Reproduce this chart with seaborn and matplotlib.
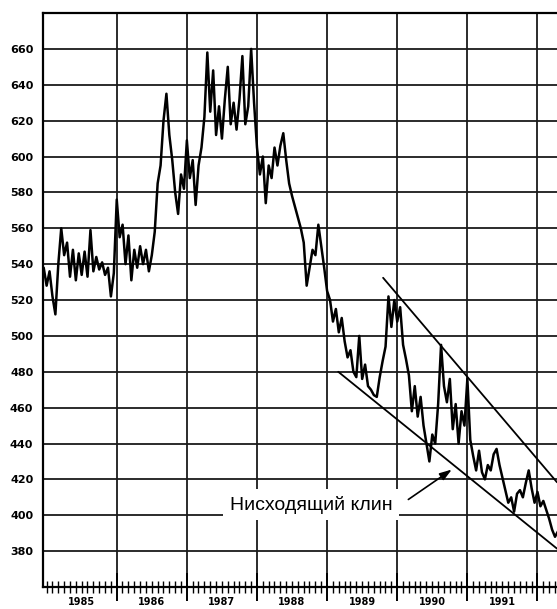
import numpy as np
import pandas as pd
import matplotlib
matplotlib.use("Agg")
import matplotlib.pyplot as plt
import matplotlib.transforms as mtransforms
import seaborn as sns

# ---- data, half-monthly points starting 1984.96 ----
start_year = 1984.96
step = 1 / 24
prices_1985 = [538, 528, 536, 522, 512, 540, 560, 545, 552, 533, 548, 531,
               546, 534, 547, 533, 559, 536, 544, 537, 541, 534, 538, 522]
prices_1986 = [535, 576, 555, 562, 540, 556, 531, 548, 538, 550, 540, 548,
               536, 545, 558, 585, 595, 620, 635, 612, 598, 580, 568, 590]
prices_1987 = [582, 609, 588, 598, 573, 595, 605, 622, 658, 625, 648, 612,
               628, 610, 632, 650, 618, 630, 615, 632, 656, 618, 628, 660]
prices_1988 = [630, 605, 590, 600, 574, 595, 588, 605, 595, 606, 613, 598,
               585, 578, 572, 566, 560, 552, 528, 538, 548, 545, 562, 550]
prices_1989 = [538, 525, 520, 508, 515, 502, 510, 497, 488, 492, 480, 477,
               500, 476, 484, 472, 470, 467, 466, 477, 486, 494, 522, 505]
prices_1990 = [520, 508, 516, 495, 487, 478, 458, 472, 455, 466, 450, 440,
               430, 445, 440, 462, 495, 472, 463, 476, 448, 462, 440, 458]
prices_1991 = [450, 476, 442, 433, 425, 436, 424, 420, 428, 425, 434, 437,
               428, 421, 414, 407, 410, 402, 412, 414, 410, 418, 425, 415]
prices_1992 = [407, 413, 405, 408, 403, 398, 392, 388, 391]

# wedge lines ("Нисходящий клин")
upper_line_x = [1989.80, 1992.28]
upper_line_y = [532.4, 418.4]
lower_line_x = [1989.16, 1992.28]
lower_line_y = [480.0, 381.4]

year_labels = [1985, 1986, 1987, 1988, 1989, 1990, 1991]
year_bounds = [1986, 1987, 1988, 1989, 1990, 1991, 1992]
y_ticks = [380, 400, 420, 440, 460, 480, 500, 520, 540, 560, 580, 600, 620, 640, 660]

annot_text = "Нисходящий клин"
annot_pos = (1988.77, 406)
arrow_tail = (1990.16, 408.8)
arrow_head = (1990.78, 425.5)

# ---- build table ----
prices = (prices_1985 + prices_1986 + prices_1987 + prices_1988 +
          prices_1989 + prices_1990 + prices_1991 + prices_1992)
t = start_year + np.arange(len(prices)) * step
df = pd.DataFrame({"t": t, "price": prices})

sns.set_theme(style="white")
plt.rcParams["font.family"] = ["DejaVu Sans"]

fig = plt.figure(figsize=(5.57, 6.09), dpi=100)
fig.patch.set_facecolor("white")
ax = fig.add_axes([0.0772, 0.0361, 0.9228, 0.9425])
ax.set_facecolor("white")

sns.lineplot(data=df, x="t", y="price", ax=ax, color="black", lw=1.8,
             estimator=None, sort=False, zorder=3)

ax.plot(upper_line_x, upper_line_y, color="black", lw=1.3, zorder=4)
ax.plot(lower_line_x, lower_line_y, color="black", lw=1.3, zorder=4)

ax.set_xlim(1984.95, 1992.28)
ax.set_ylim(360, 680)

# grid
ax.set_yticks(y_ticks)
ax.set_yticklabels([str(v) for v in y_ticks], fontsize=8, fontweight="bold")
ax.set_xticks(year_bounds)
ax.set_xticklabels([""] * len(year_bounds))
ax.set_xticks(np.arange(1985, 1992.3, 1 / 12), minor=True)
ax.grid(True, which="major", color="#1a1a1a", lw=1.3, zorder=1)
ax.tick_params(axis="y", length=0, pad=7, colors="black")
ax.tick_params(axis="x", which="both", bottom=True)
ax.tick_params(axis="x", which="major", direction="inout", length=20, width=1.4, color="black")
ax.tick_params(axis="x", which="minor", direction="inout", length=8, width=1.0, color="black")

trans = mtransforms.blended_transform_factory(ax.transData, ax.transAxes)
for yr in year_labels:
    ax.text(yr + 0.5, -0.017, str(yr), transform=trans, ha="center", va="top",
            fontsize=7, fontweight="bold", color="black")

for side in ["left", "top", "bottom"]:
    ax.spines[side].set_color("black")
    ax.spines[side].set_linewidth(1.6)
ax.spines["right"].set_visible(False)

ax.set_xlabel("")
ax.set_ylabel("")

ax.text(annot_pos[0], annot_pos[1], annot_text, ha="center", va="center",
        fontsize=14, family=["Liberation Sans", "DejaVu Sans"], color="black", zorder=6,
        bbox=dict(boxstyle="square,pad=0.35", fc="white", ec="none"))
ax.annotate("", xy=arrow_head, xytext=arrow_tail, zorder=6,
            arrowprops=dict(arrowstyle="-|>,head_length=0.6,head_width=0.2",
                            color="black", lw=1.2, shrinkA=0, shrinkB=0))

fig.savefig("out.png", dpi=100, facecolor="white")
